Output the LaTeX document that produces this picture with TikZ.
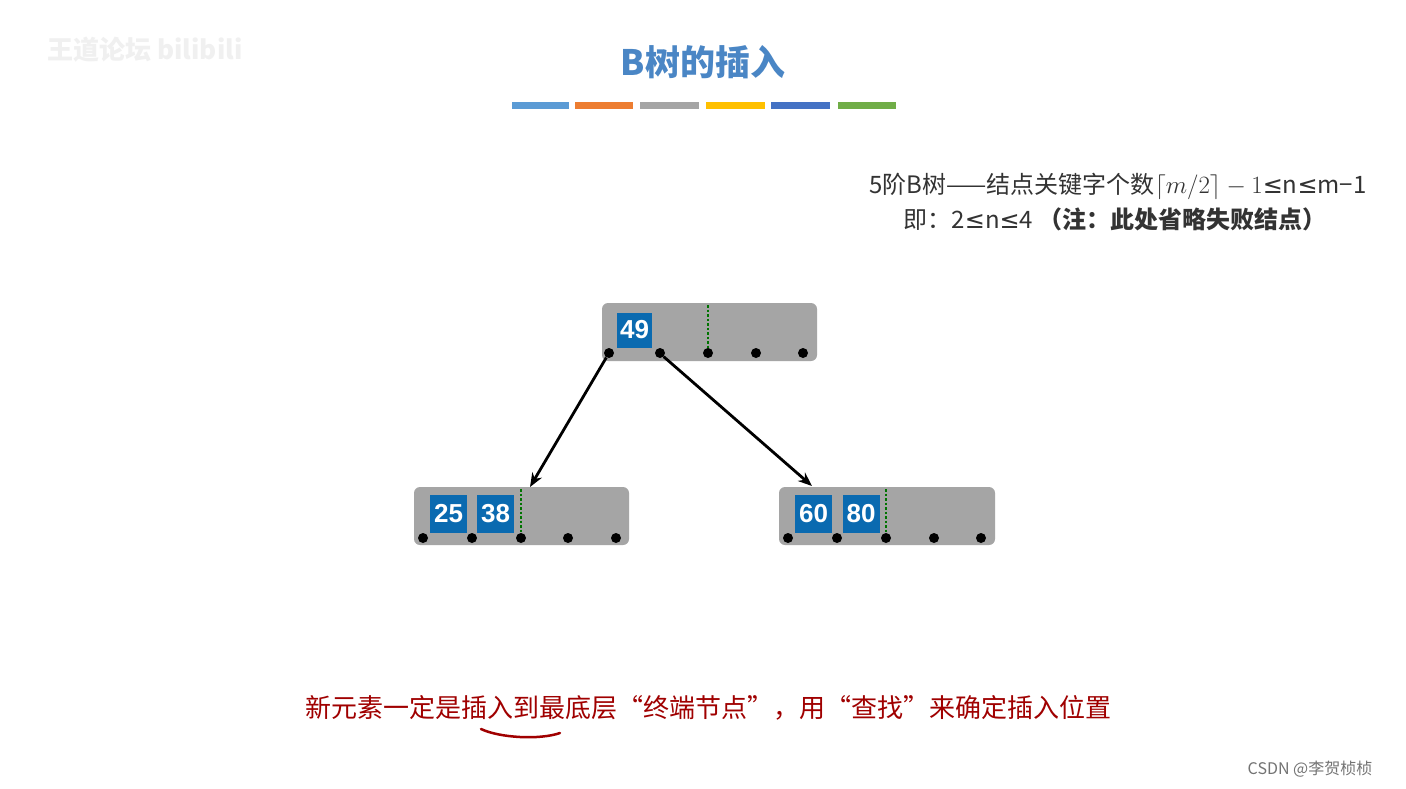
\documentclass[tikz,border=0pt]{standalone}
\usepackage{fontspec}
\usetikzlibrary{arrows.meta}
\setmainfont{Noto Sans CJK SC}
\newfontfamily\cjk{Noto Sans CJK SC}
\newfontfamily\dejavu{DejaVu Sans}
\newfontfamily\arialish{Liberation Sans}
\begin{document}
\begin{tikzpicture}[x=1pt,y=-1pt,
  bnode/.style={fill=nodegray,rounded corners=6pt,draw=none},
  key/.style={fill=keyblue,text=white,minimum width=37pt,minimum height=38pt,inner sep=0pt,font=\arialish\bfseries\fontsize{26}{26}\selectfont},
  ptr/.style={fill=black,circle,inner sep=0pt,minimum size=10pt},
  gl/.style={draw=green!45!black,dotted,line width=2.5pt},
  arr/.style={-{Stealth[length=14pt,width=11pt]},line width=2.8pt}]
\definecolor{nodegray}{HTML}{A5A5A5}
\definecolor{keyblue}{HTML}{0A6AB0}
\definecolor{titleblue}{HTML}{4A86C5}
\definecolor{darkred}{HTML}{A00000}
\useasboundingbox (0,0) rectangle (1406,788);
\fill[white] (0,0) rectangle (1406,788);
\node[text=black!6,font=\fontsize{26}{26}\selectfont\bfseries] (wm) at (145,50) {王道论坛 bilibili};
\node[text=titleblue,font=\fontsize{35}{35}\selectfont\bfseries] (title) at (703,62) {B树的插入};
\foreach \a/\b/\c in {512/569/5B9BD5,575/633/ED7D31,640/699/A5A5A5,706/765/FFC000,771/830/4472C4,838/896/70AD47}{
  \definecolor{bc}{HTML}{\c}\fill[bc] (\a,102) rectangle (\b,109);}
\node[text=black!80,font=\fontsize{24}{24}\selectfont] (l1) at (1118,186) {5阶B树——结点关键字个数$\lceil m/2\rceil-1${\dejavu ≤}n{\dejavu ≤}m−1};
\node[text=black!80,font=\fontsize{24}{24}\selectfont] (l2) at (1115,219) {即：2{\dejavu ≤}n{\dejavu ≤}4 \textbf{（注：此处省略失败结点）}};
% root
\fill[bnode] (602,303) rectangle (817,361);
\node[key,minimum height=35pt,minimum width=35pt] (k49) at (634.5,330) {49};
\draw[gl] (708,305) -- (708,353);
\foreach \x [count=\i] in {609,660,708,756,803} \node[ptr] (r\i) at (\x,353) {};
% left
\fill[bnode] (414,487) rectangle (629,545);
\node[key] (k25) at (448.5,514) {25};
\node[key] (k38) at (495.5,514) {38};
\draw[gl] (521,489) -- (521,538);
\foreach \x [count=\i] in {423,472,521,568,616} \node[ptr] (a\i) at (\x,538) {};
\coordinate (lt) at (530,487);
% right
\fill[bnode] (779,487) rectangle (995,545);
\node[key] (k60) at (813.5,514) {60};
\node[key] (k80) at (861,514) {80};
\draw[gl] (886,489) -- (886,538);
\foreach \x [count=\i] in {788,837,886,934,981} \node[ptr] (b\i) at (\x,538) {};
\coordinate (rt) at (812,486);
\draw[arr] (r1) -- (lt);
\draw[arr] (r2.south east) -- (rt);
\node[text=darkred,font=\fontsize{26}{26}\selectfont] (bot) at (708,708) {新元素一定是插入到最底层“终端节点”，用“查找”来确定插入位置};
\draw[darkred,line width=2.5pt,line cap=round] (481,729) .. controls (500,738) and (540,740) .. (560,733);
\node[text=black!55,font=\fontsize{16}{16}\selectfont] (csdn) at (1310,769) {CSDN @李贺桢桢};
\end{tikzpicture}
\end{document}
